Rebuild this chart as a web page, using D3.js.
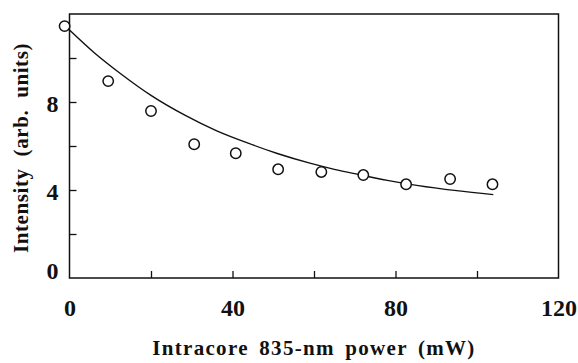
<!DOCTYPE html>
<html>
<head>
<meta charset="utf-8">
<script src="https://cdn.jsdelivr.net/npm/d3@7"></script>
<style>
  body { margin: 0; background: #fff; }
  text { font-family: "Liberation Serif", "Times New Roman", serif; font-weight: bold; fill: #111; }
</style>
</head>
<body>
<svg id="chart" width="578" height="363"></svg>
<script>
// measured points (power in mW, intensity in arb. units)
var powerPts = [-1.2, 9.5, 20.0, 30.6, 40.8, 51.2, 61.8, 72.1, 82.6, 93.4, 103.8];
var intensityPts = [11.45, 8.95, 7.59, 6.08, 5.67, 4.94, 4.82, 4.68, 4.26, 4.5, 4.26];

// fitted curve
var curvePower = [0, 6, 12.8, 20, 28.3, 36, 43.5, 51, 59, 65, 70.8, 78, 85.6, 95, 104];
var curveIntensity = [11.27, 10.25, 9.25, 8.3, 7.4, 6.7, 6.15, 5.66, 5.22, 4.94, 4.71, 4.44, 4.2, 3.97, 3.79];

var xLabels = [0, 40, 80, 120];
var xMinor = [20, 40, 60, 80, 100];
var yLabels = [0, 4, 8];
var yMinor = [2, 4, 6, 8, 10];

var svg = d3.select('#chart');

var x = d3.scaleLinear().domain([0, 120]).range([69.5, 558.5]);
var y = d3.scaleLinear().domain([0, 12]).range([278, 14]);

// frame
svg.append('rect')
    .attr('x', x(0)).attr('y', y(12))
    .attr('width', x(120) - x(0)).attr('height', y(0) - y(12))
    .attr('fill', 'none').attr('stroke', '#111').attr('stroke-width', 1.5);

// inward ticks
var xTicks = svg.append('g').attr('transform', 'translate(0,' + y(0) + ')')
    .call(d3.axisTop(x).tickValues(xMinor).tickSize(7).tickFormat(''));
var yTicks = svg.append('g').attr('transform', 'translate(' + x(0) + ',0)')
    .call(d3.axisRight(y).tickValues(yMinor).tickSize(7).tickFormat(''));
[xTicks, yTicks].forEach(function(g) {
    g.select('.domain').remove();
    g.selectAll('line').attr('stroke', '#111').attr('stroke-width', 1.3);
});

// tick labels
var xLab = svg.append('g').attr('transform', 'translate(0,' + y(0) + ')')
    .call(d3.axisBottom(x).tickValues(xLabels).tickSize(0));
xLab.select('.domain').remove();
xLab.selectAll('text')
    .attr('y', 38).attr('dy', null)
    .style('font-size', '24px').style('font-family', '"Liberation Serif", serif').style('font-weight', 'bold');

var yLab = svg.append('g').attr('transform', 'translate(' + x(0) + ',0)')
    .call(d3.axisLeft(y).tickValues(yLabels).tickSize(0).tickPadding(11));
yLab.select('.domain').remove();
yLab.selectAll('text')
    .attr('dy', function(d) { return d === 0 ? '0em' : '0.38em'; })
    .style('font-size', '24px').style('font-family', '"Liberation Serif", serif').style('font-weight', 'bold');

// fitted curve
var line = d3.line()
    .x(function(d, i) { return x(curvePower[i]); })
    .y(function(d) { return y(d); })
    .curve(d3.curveMonotoneX);
svg.append('path')
    .datum(curveIntensity)
    .attr('d', line)
    .attr('fill', 'none').attr('stroke', '#111').attr('stroke-width', 1.4);

// data points
svg.append('g').selectAll('circle')
    .data(intensityPts)
    .join('circle')
    .attr('cx', function(d, i) { return x(powerPts[i]); })
    .attr('cy', function(d) { return y(d); })
    .attr('r', 5.2)
    .attr('fill', '#fff').attr('stroke', '#111').attr('stroke-width', 1.5);

// axis titles
svg.append('text')
    .attr('x', 314).attr('y', 355)
    .attr('text-anchor', 'middle')
    .style('font-size', '21px').style('letter-spacing', '1.3px').style('word-spacing', '4px')
    .text('Intracore 835-nm power (mW)');

svg.append('text')
    .attr('transform', 'translate(28,148) rotate(-90)')
    .attr('text-anchor', 'middle')
    .style('font-size', '21px').style('letter-spacing', '0.6px').style('word-spacing', '6px')
    .text('Intensity (arb. units)');
</script>
</body>
</html>
